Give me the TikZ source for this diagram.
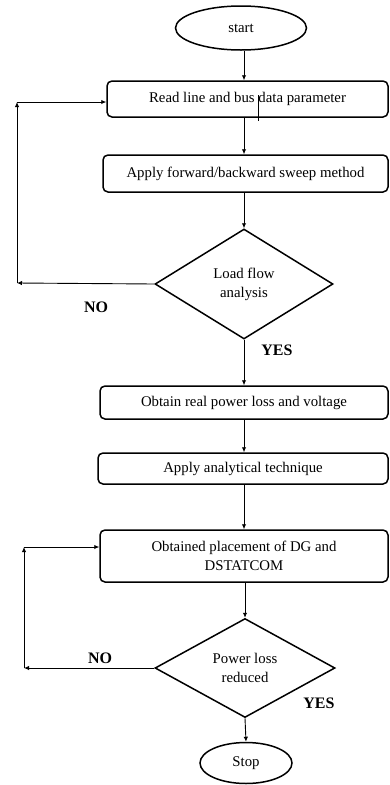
\documentclass[tikz,border=0pt]{standalone}
\usepackage{fontspec}
\setmainfont{Liberation Serif}
\usetikzlibrary{shapes.geometric,arrows.meta}
\begin{document}
\begin{tikzpicture}[x=1pt,y=-1pt,
  txt/.style={font=\fontsize{14.8}{19}\selectfont},
  procbox/.style={draw,line width=1.5pt,rounded corners=5pt,rectangle,inner sep=0pt,txt,align=center},
  term/.style={draw,line width=1.5pt,ellipse,inner sep=0pt,txt},
  decide/.style={draw,line width=1.5pt,diamond,inner sep=0pt,txt,align=center},
  conn/.style={line width=0.9pt,-{Latex[length=5pt,width=4.5pt]}},
  lbl/.style={font=\fontsize{16}{19}\selectfont\bfseries}]
\useasboundingbox (0,0) rectangle (390,785);
\node[term,minimum width=131pt,minimum height=44pt] (start) at (241,28) {start};
\node[procbox,minimum width=281pt,minimum height=36pt] (box1) at (247.5,99) {Read line and bus data parameter};
\node[procbox,minimum width=285pt,minimum height=37pt] (box2) at (245.5,173.5) {Apply forward/backward sweep method};
\node[decide,minimum width=178pt,minimum height=110pt] (d1) at (244,284) {Load flow\\analysis};
\node[procbox,minimum width=288pt,minimum height=33pt] (box3) at (244,402.5) {Obtain real power loss and voltage};
\node[procbox,minimum width=290pt,minimum height=31pt] (box4) at (243,468.5) {Apply analytical technique};
\node[procbox,minimum width=288pt,minimum height=52pt] (box5) at (244,556) {Obtained placement of DG and\\DSTATCOM};
\node[decide,minimum width=180pt,minimum height=99pt] (d2) at (245,668) {Power loss\\reduced};
\node[term,minimum width=92pt,minimum height=41pt] (stop) at (246,763) {Stop};
% stray mark
\coordinate (s1) at (258,95);
\coordinate (s2) at (258,121);
\draw[line width=0.7pt] (s1) -- (s2);
% main flow
\draw[conn] (start.south -| d1) -- (box1.north -| d1);
\draw[conn] (box1.south -| d1) -- (box2.north -| d1);
\draw[conn] (box2.south -| d1) -- (d1.north);
\draw[conn] (d1.south) -- (box3.north -| d1);
\draw[conn] (box3.south -| d1) -- (box4.north -| d1);
\draw[conn] (box4.south -| d1) -- (box5.north -| d1);
\draw[conn] (box5.south -| d2) -- (d2.north);
\draw[conn] (d2.south) -- (stop.north);
% feedback 1
\coordinate (c1) at (17,283);
\coordinate (c2) at (17,102);
\draw[conn] (d1.west) -- (c1);
\draw[conn] (c1) -- (c2);
\draw[conn] (c2) -- (c2 -| box1.west);
% feedback 2
\coordinate (c3) at (24,668);
\coordinate (c4) at (24,547);
\draw[conn] (d2.west) -- (c3);
\draw[conn] (c3) -- (c4);
\draw[conn] (c4) -- (c4 -| box5.west);
% labels
\node[lbl] (no1) at (96,307) {NO};
\node[lbl] (yes1) at (277,350) {YES};
\node[lbl] (no2) at (100,658) {NO};
\node[lbl] (yes2) at (319,703) {YES};
\end{tikzpicture}
\end{document}
